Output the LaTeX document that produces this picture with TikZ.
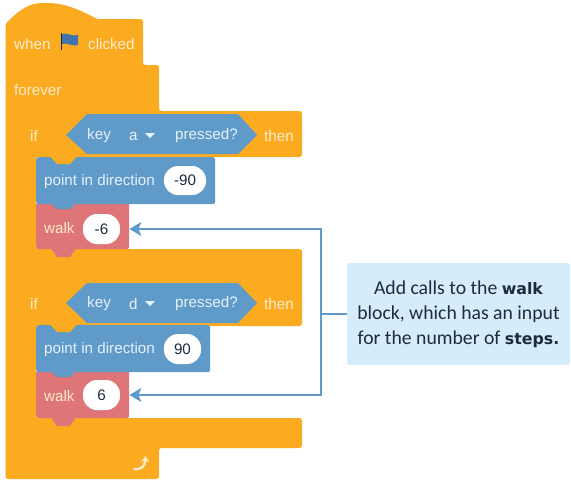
\documentclass[tikz,border=0pt]{standalone}
\usepackage{fontspec}
\setmainfont{Liberation Sans}
\newfontfamily\notefont{Carlito}
\newfontfamily\notebold{DejaVu Sans}[BoldFont=DejaVu Sans Bold]
\usetikzlibrary{arrows.meta}
\definecolor{blockorange}{HTML}{FBAB20}
\definecolor{blockblue}{HTML}{5F9AC8}
\definecolor{blockred}{HTML}{DD7579}
\definecolor{notefill}{HTML}{D5EDFA}
\definecolor{cream}{HTML}{FFEBCB}
\definecolor{paleblue}{HTML}{E4F1FA}
\definecolor{inktext}{HTML}{1C2B3E}
\definecolor{flagblue}{HTML}{4174AE}
\tikzset{
  block/.style={anchor=north west,inner sep=0pt,rounded corners=2.5pt},
  blueblock/.style={block,fill=blockblue},
  redblock/.style={block,fill=blockred},
  ctrl/.style={text=cream,font=\fontsize{15.2}{18}\selectfont,inner sep=0pt},
  motion/.style={text=paleblue,font=\fontsize{15.2}{18}\selectfont,inner sep=0pt},
  pill/.style={fill=white,rounded corners=14pt,inner sep=0pt,text=inktext,font=\fontsize{15.2}{18}\selectfont},
  pointer/.style={draw=blockblue,line width=2pt},
  tip/.style={-{Stealth[length=12pt,width=14pt,inset=3pt]}}
}
\newcommand{\notewords}[1]{{\notebold\bfseries\fontsize{15.8}{18}\selectfont #1}}
\begin{document}
\begin{tikzpicture}[x=1pt,y=-1pt]
\useasboundingbox (0,0) rectangle (571,483);
% orange body
\fill[blockorange,rounded corners=2.5pt] (5.5,24) .. controls (20,9) and (30,3) .. (45,3) .. controls (65,3) and (80,10) .. (97,19)
  -- (143,19) -- (143,65) -- (159,65) -- (159,111) -- (302,111) -- (302,157) -- (36,157) -- (36,249)
  -- (302,249) -- (302,326) -- (36,326) -- (36,418) -- (302,418) -- (302,448) -- (159,448) -- (159,479) -- (5.5,479) -- cycle;
% conditions
\fill[blockblue] (66,135) -- (87,114) -- (238,114) -- (257,135) -- (238,154) -- (87,154) -- cycle;
\fill[blockblue] (66,303) -- (87,283) -- (238,283) -- (257,303) -- (238,323) -- (87,323) -- cycle;
% first branch
\node[redblock,minimum width=93pt,minimum height=47pt] (walkA) at (36,202) {};
\fill[blockred] (50,247) -- (57,257) -- (70,257) -- (77,247) -- cycle;
\node[blueblock,minimum width=179pt,minimum height=47pt] (pointA) at (36,157) {};
\fill[blockblue] (50,202) -- (57,209) -- (70,209) -- (77,202) -- cycle;
\fill[blockorange] (50,156.5) -- (57,164) -- (70,164) -- (77,156.5) -- cycle;
% second branch
\node[redblock,minimum width=93pt,minimum height=48pt] (walkB) at (36,370) {};
\fill[blockred] (50,416) -- (57,426) -- (70,426) -- (77,416) -- cycle;
\node[blueblock,minimum width=174pt,minimum height=47pt] (pointB) at (36,325) {};
\fill[blockblue] (50,370) -- (57,377) -- (70,377) -- (77,370) -- cycle;
\fill[blockorange] (50,324.5) -- (57,332) -- (70,332) -- (77,324.5) -- cycle;
% hat row
\node[ctrl,anchor=west] (when) at (14,44) {when};
\node[ctrl,anchor=west] (clicked) at (88,44) {clicked};
\fill[flagblue] (62,34) .. controls (67,32) and (72,37) .. (78,35) -- (78,45) .. controls (72,47) and (67,42) .. (62,44) -- cycle;
\draw[inktext,line width=.8pt] (61.5,33) -- (61.5,50);
\node[ctrl,anchor=west] (forever) at (14,90) {forever};
% first if
\node[ctrl,anchor=west] (ifA) at (30,136) {if};
\node[motion,anchor=west] (keyA) at (87,136) {key};
\node[motion,anchor=west] (letterA) at (129,136) {a};
\fill[paleblue] (145,133) -- (155,133) -- (150,138) -- cycle;
\node[motion,anchor=west] (pressedA) at (175,136) {pressed?};
\node[ctrl,anchor=west] (thenA) at (264,136) {then};
\node[motion,anchor=west] (pointtextA) at (44,182) {point in direction};
\node[pill,minimum width=42pt,minimum height=29pt] (dirA) at (185,180.5) {-90};
\node[ctrl,anchor=west] (walktextA) at (44,228) {walk};
\node[pill,minimum width=37pt,minimum height=30pt] (stepsA) at (101.5,229) {-6};
% second if
\node[ctrl,anchor=west] (ifB) at (30,304) {if};
\node[motion,anchor=west] (keyB) at (87,304) {key};
\node[motion,anchor=west] (letterB) at (129,304) {d};
\fill[paleblue] (145,301) -- (155,301) -- (150,306) -- cycle;
\node[motion,anchor=west] (pressedB) at (175,304) {pressed?};
\node[ctrl,anchor=west] (thenB) at (264,304) {then};
\node[motion,anchor=west] (pointtextB) at (44,350) {point in direction};
\node[pill,minimum width=37pt,minimum height=30pt] (dirB) at (182.5,349) {90};
\node[ctrl,anchor=west] (walktextB) at (44,396) {walk};
\node[pill,minimum width=37pt,minimum height=30pt] (stepsB) at (101.5,395) {6};
% loop arrow
\draw[cream,line width=2.5pt,-{Stealth[length=6pt,width=8pt]}] (133.5,469) .. controls (142,470) and (145,466) .. (145.5,456);
% note and pointers
\node[fill=notefill,rounded corners=2pt,minimum width=223pt,minimum height=102pt,inner sep=0pt,align=center,text=inktext,font=\notefont\fontsize{19.7}{25}\selectfont] (note) at (458.5,314) {Add calls to the \notewords{walk}\\block, which has an input\\for the number of \notewords{steps.}};
\coordinate (joint) at (321,314);
\draw[pointer] (note.west) -- (joint);
\draw[pointer,tip] (joint) |- (walkA.east |- stepsA);
\draw[pointer,tip] (joint) |- (walkB.east |- stepsB);
\end{tikzpicture}
\end{document}
